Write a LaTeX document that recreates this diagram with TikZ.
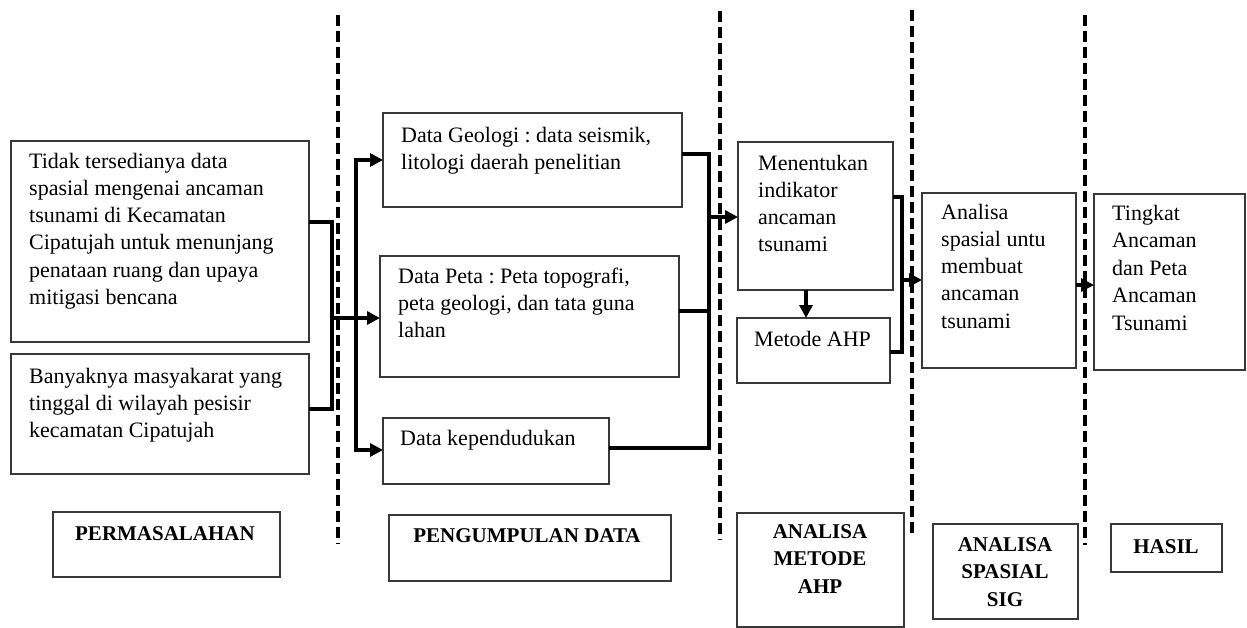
\documentclass[tikz,border=0pt]{standalone}
\usepackage{fontspec}
\setmainfont{Liberation Serif}
\usetikzlibrary{arrows.meta,calc}
\frenchspacing
\begin{document}
\begin{tikzpicture}[x=1pt,y=-1pt,
  box/.style={draw=black!78, line width=1.3pt, anchor=north west, inner sep=0pt, outer sep=0pt},
  txt/.style={anchor=north west, inner sep=0pt, align=left, font=\fontsize{22}{27.2}\selectfont},
  lbl/.style={anchor=north, inner sep=0pt, align=center, font=\fontsize{21}{27.5}\selectfont\bfseries},
  conn/.style={line width=3.3pt, line join=miter},
  arr/.style={conn, -{Triangle[length=13pt,width=13pt]}},
  sepline/.style={line width=3.2pt, dash pattern=on 11pt off 5pt}]
\useasboundingbox (0,0) rectangle (1247,628);
\fill[white] (0,0) rectangle (1247,628);

% separators
\draw[sepline] (338,15) -- (338,544);
\draw[sepline] (720,11) -- (720,540);
\draw[sepline] (912,10) -- (912,538);
\draw[sepline] (1085,15) -- (1085,545);

% boxes
\node[box, minimum width=298, minimum height=201] (p1) at (11,141) {};
\node[box, minimum width=298, minimum height=120] (p2) at (11,354) {};
\node[box, minimum width=299, minimum height=94] (d1) at (383,113) {};
\node[box, minimum width=299, minimum height=121] (d2) at (380,256) {};
\node[box, minimum width=226, minimum height=66] (d3) at (383,418) {};
\node[box, minimum width=155, minimum height=148] (a1) at (738,142) {};
\node[box, minimum width=153, minimum height=65] (a2) at (737,318) {};
\node[box, minimum width=154, minimum height=175] (s1) at (922,193) {};
\node[box, minimum width=151, minimum height=176] (h1) at (1094,194) {};
\node[box, minimum width=227, minimum height=65] (l1) at (53,512) {};
\node[box, minimum width=282, minimum height=66] (l2) at (389,515) {};
\node[box, minimum width=167, minimum height=114] (l3) at (737,513) {};
\node[box, minimum width=145, minimum height=95] (l4) at (933,524) {};
\node[box, minimum width=111, minimum height=48] (l5) at (1111,524) {};

% texts
\node[txt] (tp1) at (29,149) {\strut Tidak tersedianya data\\spasial mengenai ancaman\\tsunami di Kecamatan\\Cipatujah untuk menunjang\\penataan ruang dan upaya\\mitigasi bencana};
\node[txt] (tp2) at (29,364) {\strut Banyaknya masyakarat yang\\tinggal di wilayah pesisir\\kecamatan Cipatujah};
\node[txt] (td1) at (401,123) {\strut Data Geologi : data seismik,\\litologi daerah penelitian};
\node[txt] (td2) at (398,264) {\strut Data Peta : Peta topografi,\\peta geologi, dan tata guna\\lahan};
\node[txt] (td3) at (400,426) {\strut Data kependudukan};
\node[txt] (ta1) at (758,151) {\strut Menentukan\\indikator\\ancaman\\tsunami};
\node[txt] (ta2) at (754,327) {\strut Metode AHP};
\node[txt] (ts1) at (941,200) {\strut Analisa\\spasial untu\\membuat\\ancaman\\tsunami};
\node[txt, font=\fontsize{22}{27.5}\selectfont] (th1) at (1112,201) {\strut Tingkat\\Ancaman\\dan Peta\\Ancaman\\Tsunami};

\node[lbl] (tl1) at (165,521) {\strut PERMASALAHAN};
\node[lbl] (tl2) at (527,523) {\strut PENGUMPULAN DATA};
\node[lbl] (tl3) at (820,519) {\strut ANALISA\\METODE\\AHP};
\node[lbl] (tl4) at (1005,532) {\strut ANALISA\\SPASIAL\\SIG};
\node[lbl] (tl5) at (1166,534) {\strut HASIL};

% connectors: permasalahan -> data
\coordinate (ja) at (332,222);
\coordinate (jb) at (332,409);
\coordinate (jc) at (332,318);
\draw[conn] (p1.east |- ja) -- (ja) -- (jb) -- (p2.east |- jb);
\draw[arr] (jc) -- (d2.west |- jc);
\coordinate (bt) at (356,160);
\coordinate (bb) at (356,450);
\draw[arr] (bt |- jc) -- (bt) -- (d1.west |- bt);
\draw[arr] (bb |- jc) -- (bb) -- (d3.west |- bb);

% data -> AHP
\coordinate (kt) at (709,154);
\coordinate (km) at (709,311);
\coordinate (kb) at (709,448);
\coordinate (ka) at (709,217);
\draw[conn] (d1.east |- kt) -- (kt) -- (kb) -- (d3.east |- kb);
\draw[conn] (d2.east |- km) -- (km);
\draw[arr] (ka) -- (a1.west |- ka);

% AHP internal
\coordinate (av) at (806,0);
\draw[arr] (a1.south -| av) -- (a2.north -| av);

% AHP -> spasial
\coordinate (mt) at (902,197);
\coordinate (mb) at (902,352);
\coordinate (ma) at (902,280);
\draw[conn] (a1.east |- mt) -- (mt) -- (mb) -- (a2.east |- mb);
\draw[arr] (ma) -- (s1.west |- ma);

% spasial -> hasil
\coordinate (sa) at (1076,285);
\draw[arr] (s1.east |- sa) -- (h1.west |- sa);
\end{tikzpicture}
\end{document}
